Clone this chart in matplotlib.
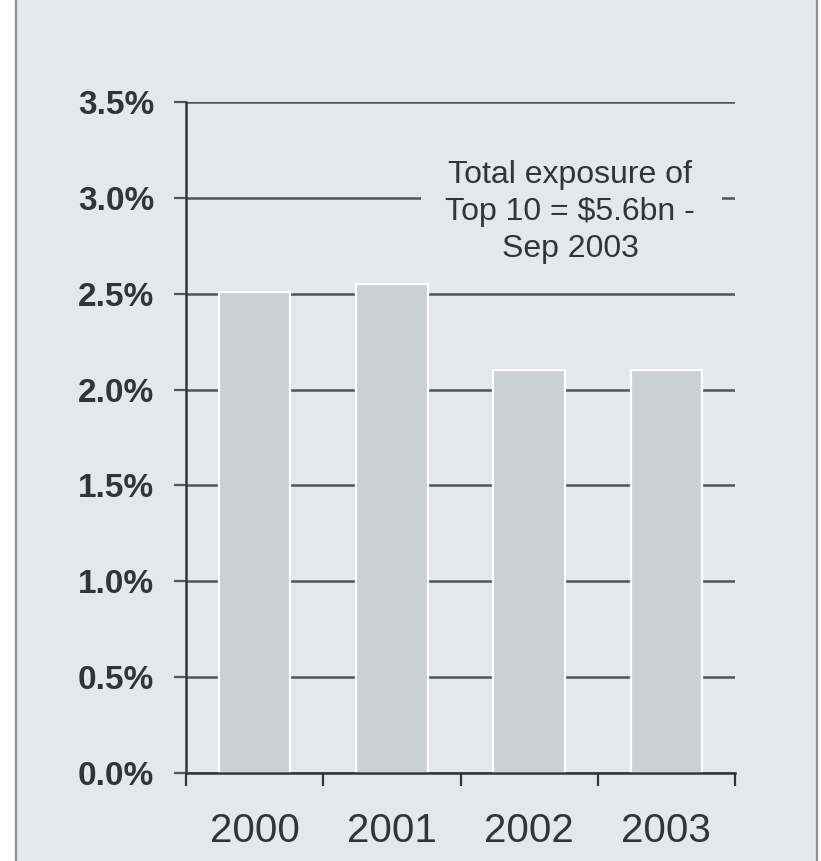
import matplotlib
matplotlib.use("Agg")
import matplotlib.pyplot as plt
from matplotlib.patches import Rectangle
from matplotlib.ticker import FixedLocator, FuncFormatter

years = ["2000", "2001", "2002", "2003"]
share_pct = [2.51, 2.55, 2.10, 2.10]
y_ticks = [0.0, 0.5, 1.0, 1.5, 2.0, 2.5, 3.0, 3.5]
note = "Total exposure of\nTop 10 = $5.6bn -\nSep 2003"

BG = "#e3e8e8"
BAR = "#cbd2d4"
GRID = "#4c5759"
INK = "#2f3638"
FRAME = "#8c9293"

plt.rcParams["font.family"] = ["Liberation Sans", "DejaVu Sans"]

fig = plt.figure(figsize=(8.21, 8.61), dpi=100)
fig.patch.set_facecolor("white")
panel = Rectangle((15.5 / 821, -0.01), (817 - 15.5) / 821, 1.02, transform=fig.transFigure,
                  facecolor=BG, edgecolor=FRAME, linewidth=1.6, zorder=-10)
fig.patches.append(panel)

ax = fig.add_axes([186 / 821, 1 - 773 / 861, (735 - 186) / 821, (773 - 102) / 861])
ax.set_facecolor("none")

x = list(range(len(years)))
ax.bar(x, share_pct, width=0.52, color=BAR, edgecolor="white", linewidth=1.6, zorder=2)

ax.set_xlim(-0.5, len(years) - 0.5)
ax.set_ylim(0, 3.5)

# horizontal gridlines behind the bars
ax.yaxis.set_major_locator(FixedLocator(y_ticks))
ax.yaxis.set_major_formatter(FuncFormatter(lambda v, p: f"{v:.1f}%"))
ax.grid(axis="y", color=GRID, linewidth=1.8, zorder=0)
ax.set_axisbelow(True)
ax.tick_params(axis="y", direction="out", length=9, width=1.6, color=GRID, pad=14,
               labelsize=24, labelcolor=INK)
for lab in ax.get_yticklabels():
    lab.set_fontweight("bold")

# category separators as ticks, year names centred between them
ax.xaxis.set_major_locator(FixedLocator([i - 0.5 for i in range(len(years) + 1)]))
ax.xaxis.set_major_formatter(FuncFormatter(lambda v, p: ""))
ax.xaxis.set_minor_locator(FixedLocator(x))
ax.set_xticklabels(years, minor=True)
ax.tick_params(axis="x", which="major", direction="out", length=9, width=1.6, color=INK)
ax.tick_params(axis="x", which="minor", length=0, pad=28, labelsize=29, labelcolor=INK)

for side in ("top", "right"):
    ax.spines[side].set_visible(False)
for side in ("left", "bottom"):
    ax.spines[side].set_color(INK)
    ax.spines[side].set_linewidth(1.8)
    ax.spines[side].set_zorder(3)

# note with a panel-coloured backing that hides the gridline behind it
ax.add_patch(Rectangle(((421 - 186) / 549, (773 - 285) / 671), (722 - 421) / 549, (285 - 135) / 671,
                       transform=ax.transAxes, facecolor=BG, edgecolor="none", zorder=1))
ax.text((570 - 186) / 549, (773 - 212) / 671, note, transform=ax.transAxes,
        ha="center", va="center", fontsize=23, color=INK, linespacing=1.32, zorder=4)

fig.savefig("out.png", dpi=100, facecolor=fig.get_facecolor())
